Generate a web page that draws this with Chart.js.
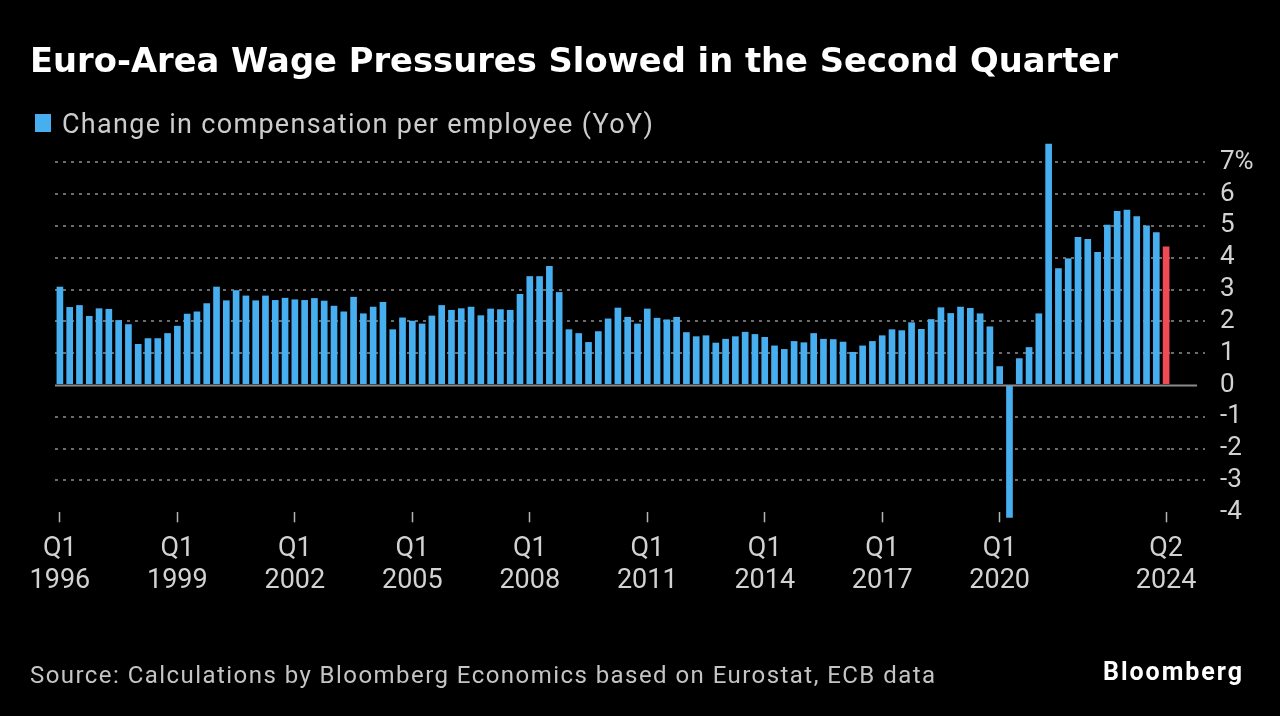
<!DOCTYPE html>
<html>
<head>
<meta charset="utf-8">
<script src="https://cdn.jsdelivr.net/npm/chart.js@4.4.1/dist/chart.umd.min.js"></script>
<style>
  html, body { margin: 0; padding: 0; background: #000; }
  #wrap { position: relative; width: 1280px; height: 716px; overflow: hidden; background: #000; }
  #chart { position: absolute; left: 0; top: 0; }
  .t { position: absolute; white-space: nowrap; line-height: 1; margin: 0; }
  #title { left: 30px; top: 46px; font-family: 'DejaVu Sans', sans-serif; font-weight: bold; font-size: 31px; color: #ffffff; }
  #swatch { position: absolute; left: 35px; top: 114px; width: 16px; height: 18px; background: #47aff0; }
  #legendText { left: 62px; top: 111px; font-family: Roboto, sans-serif; font-size: 27px; color: #cccccc; }
  #source { left: 30px; top: 663px; font-family: Roboto, sans-serif; font-size: 24px; color: #c4c4c4; }
  #brand { left: 1103px; top: 659px; font-family: Roboto, sans-serif; font-weight: bold; font-size: 25px; color: #ffffff; }
</style>
</head>
<body>
<div id="wrap">
  <canvas id="chart" width="1280" height="716"></canvas>
  <div class="t" id="title">Euro-Area Wage Pressures Slowed in the Second Quarter</div>
  <div id="swatch"></div>
  <div class="t" id="legendText">Change in compensation per employee (YoY)</div>
  <div class="t" id="source">Source: Calculations by Bloomberg Economics based on Eurostat, ECB data</div>
  <div class="t" id="brand">Bloomberg</div>
</div>
<script>
// ---------------- data ----------------
const firstYear = 1996;
const quarterCount = 114; // Q1 1996 .. Q2 2024
const categories = [];
for (let y = firstYear; categories.length < quarterCount; y++) {
  for (let q = 1; q <= 4 && categories.length < quarterCount; q++) categories.push('Q' + q + ' ' + y);
}

const wageGrowthYoY = [
  3.09, 2.45, 2.51, 2.17,   // 1996
  2.41, 2.39, 2.04, 1.91,   // 1997
  1.29, 1.47, 1.47, 1.63,   // 1998
  1.86, 2.24, 2.31, 2.57,   // 1999
  3.09, 2.66, 2.98, 2.81,   // 2000
  2.66, 2.81, 2.67, 2.74,   // 2001
  2.69, 2.67, 2.73, 2.65,   // 2002
  2.49, 2.31, 2.77, 2.25,   // 2003
  2.46, 2.61, 1.75, 2.12,   // 2004
  2.02, 1.93, 2.18, 2.51,   // 2005
  2.36, 2.41, 2.46, 2.19,   // 2006
  2.40, 2.38, 2.36, 2.86,   // 2007
  3.42, 3.42, 3.74, 2.92,   // 2008
  1.75, 1.63, 1.35, 1.69,   // 2009
  2.09, 2.43, 2.14, 1.93,   // 2010
  2.40, 2.11, 2.06, 2.14,   // 2011
  1.66, 1.53, 1.56, 1.33,   // 2012
  1.45, 1.53, 1.67, 1.60,   // 2013
  1.51, 1.24, 1.13, 1.38,   // 2014
  1.34, 1.63, 1.45, 1.44,   // 2015
  1.36, 1.04, 1.24, 1.38,   // 2016
  1.56, 1.75, 1.72, 1.97,   // 2017
  1.76, 2.07, 2.44, 2.26,   // 2018
  2.46, 2.42, 2.25, 1.84,   // 2019
  0.59, -4.17, 0.84, 1.19,  // 2020
  2.25, 7.58, 3.67, 3.98,   // 2021
  4.65, 4.59, 4.18, 5.04,   // 2022
  5.47, 5.51, 5.30, 5.01,   // 2023
  4.80, 4.35                // 2024
];

const xTickLabels = ['Q1 1996', 'Q1 1999', 'Q1 2002', 'Q1 2005', 'Q1 2008', 'Q1 2011', 'Q1 2014', 'Q1 2017', 'Q1 2020', 'Q2 2024'];
const yTickValues = [-4, -3, -2, -1, 0, 1, 2, 3, 4, 5, 6, 7];
const yMin = -4, yMax = 7.7;

// ---------------- styles ----------------
const BLUE = '#47aff0';
const RED = '#f04b55';
const GRID = '#6c6c6c';
const LABEL = '#d2d2d2';
const lastIndex = wageGrowthYoY.length - 1;

const zeroLine = {
  id: 'zeroLine',
  beforeDatasetsDraw(chart) {
    const { ctx, chartArea, scales } = chart;
    const py = Math.round(scales.y.getPixelForValue(0)) + 0.5;
    ctx.save();
    ctx.strokeStyle = '#8c8c8c';
    ctx.lineWidth = 2;
    ctx.beginPath();
    ctx.moveTo(chartArea.left, py);
    ctx.lineTo(chartArea.right + 26, py);
    ctx.stroke();
    ctx.restore();
  }
};

const hiddenY = v => v === 0 || v === -4;

new Chart(document.getElementById('chart'), {
  type: 'bar',
  data: {
    labels: categories,
    datasets: [{
      label: 'Change in compensation per employee (YoY)',
      data: wageGrowthYoY,
      backgroundColor: ctx => ctx.dataIndex === lastIndex ? RED : BLUE,
      borderWidth: 0,
      barPercentage: 0.68,
      categoryPercentage: 1.0,
      clip: false
    }]
  },
  options: {
    responsive: false,
    animation: false,
    devicePixelRatio: 1,
    layout: { padding: { left: 55, right: 0, top: 140, bottom: 0 } },
    plugins: { legend: { display: false }, title: { display: false }, tooltip: { enabled: false } },
    scales: {
      x: {
        type: 'category',
        offset: true,
        grid: {
          display: true,
          drawOnChartArea: false,
          drawTicks: true,
          offset: false,
          tickLength: 10,
          tickWidth: 1.5,
          tickColor: ctx => (ctx.tick && xTickLabels.includes(categories[ctx.index])) ? '#b4b4b4' : 'rgba(0,0,0,0)'
        },
        border: { display: false },
        ticks: {
          autoSkip: false,
          maxRotation: 0,
          minRotation: 0,
          padding: 10,
          color: LABEL,
          font: { family: 'Roboto', size: 27, lineHeight: 1.22 },
          callback: (value, index) => {
            const lab = categories[index];
            return xTickLabels.includes(lab) ? lab.split(' ') : '';
          }
        },
        afterFit: scale => { scale.height = 203.7; }
      },
      y: {
        position: 'right',
        min: yMin,
        max: yMax,
        afterBuildTicks: scale => { scale.ticks = yTickValues.map(v => ({ value: v })); },
        grid: {
          color: ctx => (ctx.tick && hiddenY(ctx.tick.value)) ? 'rgba(0,0,0,0)' : GRID,
          lineWidth: 2,
          drawTicks: true,
          tickLength: 34,
          tickWidth: 2,
          tickBorderDash: [3, 5],
          tickColor: ctx => (ctx.tick && hiddenY(ctx.tick.value)) ? 'rgba(0,0,0,0)' : GRID
        },
        border: { display: false, dash: [3, 5] },
        ticks: {
          autoSkip: false,
          padding: 15,
          crossAlign: 'near',
          color: LABEL,
          font: { family: 'Roboto', size: 26 },
          callback: v => v === 7 ? '7%' : String(v)
        },
        afterFit: scale => { scale.width = 1280 - 1171; }
      }
    }
  },
  plugins: [zeroLine]
});

// ---------------- text fitting ----------------
function fitSpacing(id, target) {
  const el = document.getElementById(id);
  const w = el.getBoundingClientRect().width;
  const n = el.textContent.length;
  el.style.letterSpacing = ((target - w) / (n - 1)) + 'px';
}
function fitSize(id, target, capCenter, capFactor) {
  const el = document.getElementById(id);
  const w = el.getBoundingClientRect().width;
  const fs = parseFloat(getComputedStyle(el).fontSize);
  const nfs = fs * target / w;
  el.style.fontSize = nfs + 'px';
  el.style.top = (capCenter - capFactor * nfs) + 'px';
}
fitSize('title', 1088, 60.5, 0.4815);
fitSpacing('legendText', 591);
fitSpacing('source', 905);
fitSpacing('brand', 139);
</script>
</body>
</html>
